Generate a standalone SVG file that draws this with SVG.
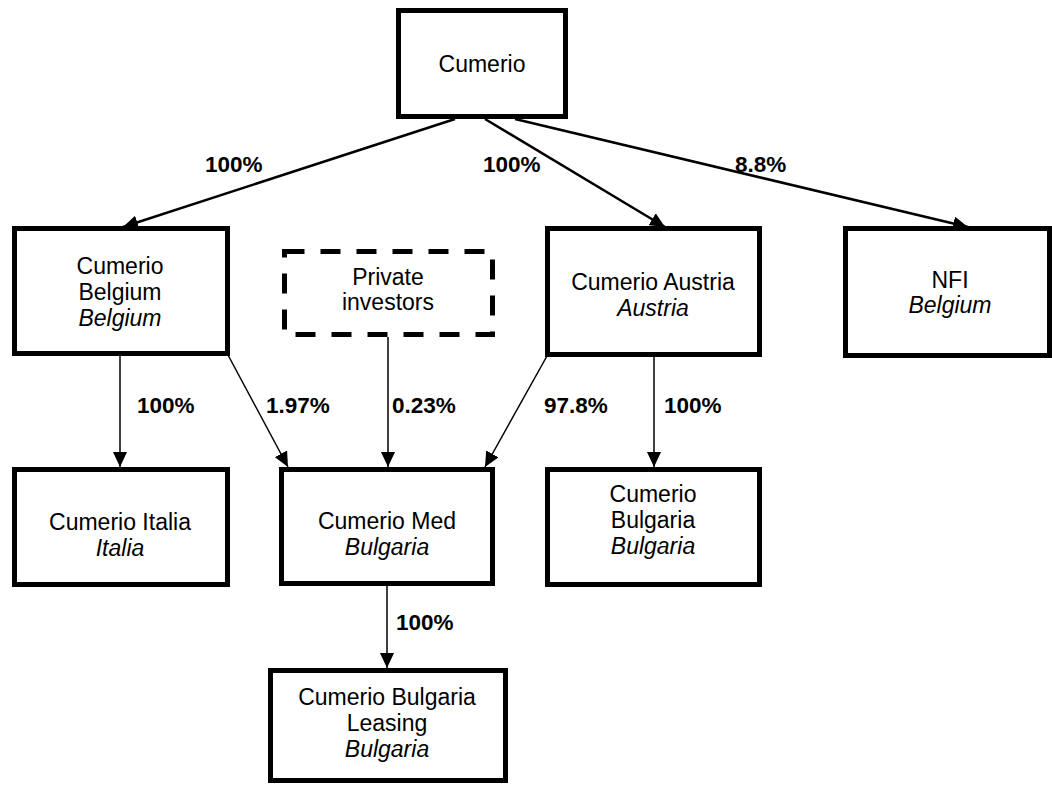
<svg xmlns="http://www.w3.org/2000/svg" width="1052" height="786" viewBox="0 0 1052 786">
<style>
.box{fill:#fff;stroke:#000;stroke-width:5}
.dash{fill:#fff;stroke:#000;stroke-width:5;stroke-dasharray:20 16}
.t{font-family:"Liberation Sans",Arial,sans-serif;font-size:23px;text-anchor:middle;fill:#000}
.i{font-style:italic}
.lbl{font-family:"Liberation Sans",Arial,sans-serif;font-size:22.5px;font-weight:bold;fill:#000}
.c1{stroke:#000;stroke-width:2.5;fill:none}
.c2{stroke:#000;stroke-width:1.5;fill:none}
</style>
<defs>
<marker id="ah" markerUnits="userSpaceOnUse" markerWidth="16" markerHeight="14" refX="15" refY="7" orient="auto">
<path d="M0,0 L15,7 L0,14 Z" fill="#000"/>
</marker>
</defs>
<rect width="1052" height="786" fill="#fff"/>
<g id="connectors">
<line class="c1" x1="455" y1="119" x2="123" y2="227" marker-end="url(#ah)"/>
<line class="c1" x1="485" y1="119" x2="665" y2="227" marker-end="url(#ah)"/>
<line class="c1" x1="515" y1="119" x2="968" y2="227" marker-end="url(#ah)"/>
<line class="c2" x1="120" y1="356" x2="120" y2="467" marker-end="url(#ah)"/>
<line class="c2" x1="228" y1="355" x2="288" y2="467" marker-end="url(#ah)"/>
<line class="c2" x1="388" y1="337" x2="388" y2="467" marker-end="url(#ah)"/>
<line class="c2" x1="547" y1="356" x2="485" y2="467" marker-end="url(#ah)"/>
<line class="c2" x1="654" y1="357" x2="654" y2="467" marker-end="url(#ah)"/>
<line class="c2" x1="387" y1="586" x2="387" y2="668" marker-end="url(#ah)"/>
<text class="lbl" x="205" y="172">100%</text>
<text class="lbl" x="483" y="172">100%</text>
<text class="lbl" x="735" y="172">8.8%</text>
<text class="lbl" x="137" y="413">100%</text>
<text class="lbl" x="266" y="413">1.97%</text>
<text class="lbl" x="392" y="413">0.23%</text>
<text class="lbl" x="544" y="413">97.8%</text>
<text class="lbl" x="664" y="413">100%</text>
<text class="lbl" x="396" y="630">100%</text>
</g>
<g id="cumerio">
<rect class="box" x="398.5" y="10.5" width="167" height="106"/>
<text class="t" x="482" y="72">Cumerio</text>
</g>
<g id="cumerio-belgium">
<rect class="box" x="14.5" y="228.5" width="213" height="125"/>
<text class="t" x="120" y="274">Cumerio</text>
<text class="t" x="120" y="300">Belgium</text>
<text class="t i" x="120" y="326">Belgium</text>
</g>
<g id="private-investors">
<rect class="dash" x="284.5" y="251.5" width="208" height="83"/>
<text class="t" x="388" y="285">Private</text>
<text class="t" x="388" y="310">investors</text>
</g>
<g id="cumerio-austria">
<rect class="box" x="547.5" y="228.5" width="212" height="126"/>
<text class="t" x="653" y="290">Cumerio Austria</text>
<text class="t i" x="653" y="316">Austria</text>
</g>
<g id="nfi">
<rect class="box" x="845.5" y="228.5" width="204" height="127"/>
<text class="t" x="950" y="288">NFI</text>
<text class="t i" x="950" y="313">Belgium</text>
</g>
<g id="cumerio-italia">
<rect class="box" x="14.5" y="469.5" width="213" height="115"/>
<text class="t" x="120" y="530">Cumerio Italia</text>
<text class="t i" x="120" y="556">Italia</text>
</g>
<g id="cumerio-med">
<rect class="box" x="281.5" y="469.5" width="211" height="114"/>
<text class="t" x="387" y="529">Cumerio Med</text>
<text class="t i" x="387" y="555">Bulgaria</text>
</g>
<g id="cumerio-bulgaria">
<rect class="box" x="547.5" y="469.5" width="212" height="115"/>
<text class="t" x="653" y="502">Cumerio</text>
<text class="t" x="653" y="528">Bulgaria</text>
<text class="t i" x="653" y="554">Bulgaria</text>
</g>
<g id="cumerio-bulgaria-leasing">
<rect class="box" x="270.5" y="670.5" width="235" height="110"/>
<text class="t" x="387" y="705">Cumerio Bulgaria</text>
<text class="t" x="387" y="731">Leasing</text>
<text class="t i" x="387" y="757">Bulgaria</text>
</g>
</svg>
